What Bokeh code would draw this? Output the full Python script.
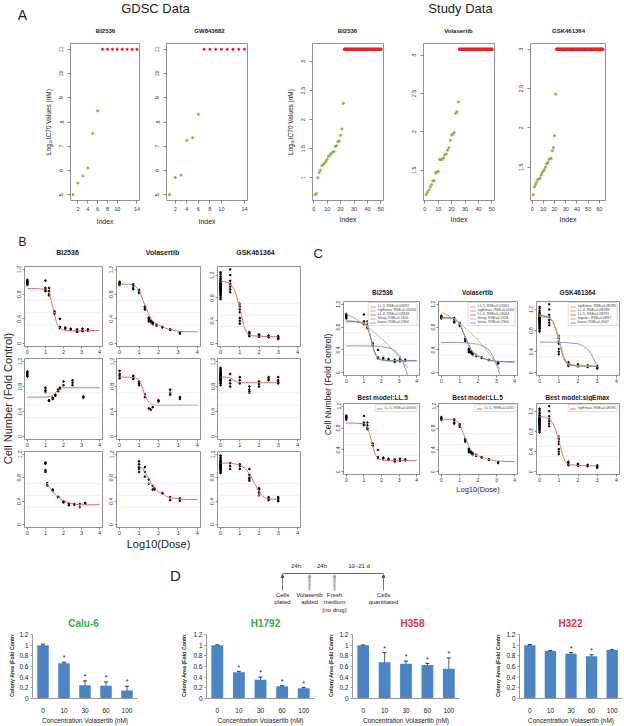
import math
from bokeh.plotting import figure
from bokeh.layouts import row, column
from bokeh.models import (Range1d, FixedTicker, Whisker, ColumnDataSource, Arrow,
                          NormalHead, Spacer, FactorRange, Span)
from bokeh.core.properties import value
from bokeh.embed import file_html
from bokeh.resources import INLINE

FONT = "Liberation Sans"
GREEN_PT = "#8cba45"
RED_PT = "#e3242b"
FIT_RED = "#e0605a"
BAR_BLUE = "#4b85c6"
ERR_COL = "#1d3557"
MODEL_COLS = ["#ea8a7e", "#b3a544", "#4f8fc0", "#d4a26a", "#9a85b8"]

# ---------------- Panel A data ----------------
gdsc_idx = [1, 2, 3, 4, 5, 6]
gdsc_bi = [5.0, 5.48, 5.77, 6.1, 7.53, 8.46]
gdsc_gw = [5.0, 5.71, 5.81, 7.24, 7.35, 8.32]
gdsc_res_idx = [7, 8, 9, 10, 11, 12, 13, 14]
gdsc_res_val = [11, 11, 11, 11, 11, 11, 11, 11]
gdsc_xticks = [2, 4, 6, 8, 10, 14]
gdsc_yticks = [5, 6, 7, 8, 9, 10, 11]

study_bi = [0.71, 0.73, 1.0, 1.09, 1.13, 1.21, 1.23, 1.25, 1.28, 1.32, 1.37, 1.39,
            1.42, 1.44, 1.45, 1.54, 1.55, 1.62, 1.63, 1.73, 1.84, 2.28]
study_bi_cap = 3.21
study_bi_n = 50
study_vol = [1.18, 1.21, 1.24, 1.28, 1.31, 1.36, 1.36, 1.46, 1.48, 1.48, 1.64, 1.64,
             1.64, 1.66, 1.70, 1.71, 1.76, 1.79, 1.89, 1.96, 1.97, 1.99, 2.24, 2.26, 2.39]
study_vol_cap = 3.076
study_vol_n = 50
study_gsk = [1.15, 1.25, 1.28, 1.31, 1.34, 1.35, 1.36, 1.40, 1.43, 1.45, 1.47, 1.50,
             1.54, 1.56, 1.60, 1.61, 1.61, 1.71, 1.75, 1.90, 2.43]
study_gsk_cap = 3.0
study_gsk_n = 63
a_titles = ["BI2536", "GW843682", "BI2536", "Volasertib", "GSK461364"]

# ---------------- Panel B data (log10 dose, replicate fold-control values, fitted curve) ----
b1_dose = [0, 1.0, 1.2, 1.5, 1.8, 2.1, 2.4, 2.75, 3.05, 3.35]
b1_reps = [[0.95, 0.97, 0.99, 1.0, 1.01, 1.03], [1.02, 0.9, 0.87, 0.85], [0.9, 0.85, 0.8, 0.78],
           [0.52, 0.5, 0.48], [0.4, 0.27, 0.25], [0.26, 0.24], [0.24, 0.22], [0.23, 0.2, 0.19],
           [0.24, 0.21, 0.2], [0.23, 0.21]]
b1_cx = [0, 0.5, 1.0, 1.1, 1.2, 1.3, 1.4, 1.5, 1.6, 1.7, 1.8, 1.9, 2.0, 2.2, 2.5, 3.0, 4.0]
b1_cy = [0.89, 0.89, 0.88, 0.86, 0.81, 0.72, 0.6, 0.47, 0.36, 0.29, 0.25, 0.23, 0.22, 0.21, 0.21, 0.21, 0.21]

b2_dose = [0, 0.7, 1.0, 1.3, 1.5, 1.6, 1.7, 1.9, 2.2, 2.6, 3.1]
b2_reps = [[0.95, 0.97, 0.98, 1.0], [0.96, 0.94, 0.9, 0.88], [0.87, 0.85, 0.82], [0.6, 0.58, 0.55],
           [0.42, 0.4, 0.38, 0.36], [0.37, 0.35], [0.34, 0.33, 0.31], [0.31, 0.29], [0.27, 0.26],
           [0.23, 0.22], [0.18, 0.16]]
b2_cx = [0, 0.5, 0.7, 0.85, 1.0, 1.1, 1.2, 1.3, 1.4, 1.5, 1.6, 1.7, 1.8, 2.0, 2.2, 2.5, 3.0, 3.5, 4.0]
b2_cy = [0.96, 0.96, 0.95, 0.92, 0.86, 0.79, 0.70, 0.62, 0.55, 0.47, 0.41, 0.37, 0.34, 0.30, 0.27, 0.23, 0.20, 0.19, 0.19]

b3_dose = [0, 0.5, 1.0, 1.5, 2.0, 2.5, 3.0]
b3_reps = [[0.78, 0.81, 0.84, 0.86, 0.88, 0.9, 0.91, 0.93, 0.94, 0.95, 0.96, 0.97, 0.98, 0.99, 1.0,
            1.01, 1.02, 1.03, 1.04, 1.05, 1.06, 1.08, 1.1, 1.12, 1.15, 1.18, 1.22, 1.25],
           [0.9, 0.95, 1.0, 1.05, 1.1, 1.2, 1.3], [0.7, 0.65, 0.6, 0.55, 0.45, 0.4, 0.35],
           [0.2, 0.18, 0.15, 0.13], [0.16, 0.14, 0.12], [0.14, 0.12, 0.11], [0.13, 0.11, 0.09, 0.08]]
b3_cx = [0, 0.3, 0.5, 0.7, 0.85, 1.0, 1.1, 1.2, 1.3, 1.4, 1.5, 2.0, 2.5, 3.0]
b3_cy = [1.10, 1.08, 1.05, 0.96, 0.82, 0.62, 0.48, 0.33, 0.23, 0.17, 0.14, 0.13, 0.12, 0.12]

b4_dose = [0, 1.0, 1.2, 1.4, 1.55, 1.7, 1.8, 2.0, 2.5, 3.1]
b4_reps = [[0.96, 0.98, 1.0, 1.02, 1.04], [0.78, 0.74, 0.71], [0.58, 0.57], [0.62, 0.6], [0.67, 0.65],
           [0.75, 0.72], [0.78, 0.76], [0.88, 0.82], [0.9, 0.86, 0.82], [0.64, 0.62]]
b4_cx = [0, 0.5, 1.0, 1.3, 1.45, 1.6, 1.7, 1.8, 1.9, 2.0, 2.5, 3.0, 4.0]
b4_cy = [0.63, 0.63, 0.63, 0.64, 0.67, 0.71, 0.74, 0.76, 0.77, 0.78, 0.78, 0.78, 0.78]

b5_dose = [0, 0.7, 1.0, 1.3, 1.5, 1.6, 1.7, 2.0, 2.6, 3.1]
b5_reps = [[1.05, 1.0, 0.97, 0.93], [0.97, 0.95, 0.92], [0.88, 0.85, 0.82], [0.68, 0.63], [0.45],
           [0.43], [0.47], [0.56, 0.58], [0.75, 0.7, 0.67], [0.63, 0.6]]
b5_cx = [0, 0.5, 0.8, 1.0, 1.1, 1.2, 1.3, 1.4, 1.5, 1.6, 1.7, 1.8, 2.0, 3.0, 4.0]
b5_cy = [0.95, 0.95, 0.94, 0.9, 0.84, 0.76, 0.67, 0.6, 0.55, 0.52, 0.51, 0.5, 0.5, 0.5, 0.5]

b6_dose = [0, 0.5, 1.0, 1.5, 2.0, 2.5, 3.0]
b6_reps = [[0.82, 0.85, 0.87, 0.89, 0.9, 0.91, 0.92, 0.93, 0.94, 0.95, 0.96, 0.97, 0.98, 0.99, 1.0,
            1.01, 1.02, 1.04, 1.06, 1.08, 1.1], [1.0, 0.9, 0.85, 0.8], [0.95, 0.9, 0.85],
           [0.8, 0.75, 0.72, 0.7], [0.88, 0.84, 0.8], [0.95, 0.92, 0.9], [0.95, 0.9, 0.87, 0.85]]
b6_cx = [0, 0.3, 0.5, 0.6, 0.7, 0.8, 0.9, 1.0, 1.5, 2.0, 3.0]
b6_cy = [0.95, 0.95, 0.94, 0.92, 0.9, 0.88, 0.87, 0.86, 0.86, 0.86, 0.86]

b7_dose = [1.0, 1.1, 1.4, 1.7, 2.0, 2.3, 2.6, 2.9, 3.2]
b7_reps = [[1.06, 1.04, 0.93, 0.9], [0.71, 0.67], [0.58, 0.6], [0.47, 0.48], [0.4, 0.38], [0.36, 0.33],
           [0.34, 0.35], [0.35, 0.3], [0.36, 0.37]]
b7_cx = [1.0, 1.2, 1.4, 1.6, 1.8, 2.0, 2.3, 2.6, 3.0, 3.5, 4.0]
b7_cy = [0.71, 0.64, 0.57, 0.5, 0.45, 0.41, 0.37, 0.35, 0.34, 0.34, 0.34]

b8_dose = [1.0, 1.3, 1.5, 1.7, 1.8, 2.2, 2.6, 3.1]
b8_reps = [[1.08, 1.03, 0.98, 0.95, 0.9], [0.98, 0.9, 0.82], [0.77, 0.7], [0.66, 0.6], [0.6, 0.62],
           [0.54, 0.53], [0.47, 0.42], [0.45, 0.41]]
b8_cx = [1.0, 1.2, 1.4, 1.6, 1.8, 2.0, 2.2, 2.5, 3.0, 3.5, 4.0]
b8_cy = [1.0, 0.95, 0.85, 0.72, 0.62, 0.56, 0.52, 0.47, 0.44, 0.43, 0.43]

b9_dose = [0, 0.5, 1.0, 1.5, 2.0, 2.5, 3.0]
b9_reps = [[0.88, 0.9, 0.92, 0.94, 0.95, 0.96, 0.97, 0.98, 0.99, 1.0, 1.01, 1.02, 1.03, 1.04, 1.05,
            1.06, 1.07, 1.08, 1.1, 1.12, 1.15, 1.18], [1.05, 1.0, 0.95], [1.03, 1.0, 0.95],
           [0.95, 0.85, 0.8, 0.78, 0.75], [0.62, 0.6, 0.55, 0.5], [0.47, 0.44, 0.42], [0.47, 0.45, 0.42, 0.4]]
b9_cx = [0, 0.5, 1.0, 1.3, 1.5, 1.7, 1.9, 2.1, 2.3, 2.5, 3.0]
b9_cy = [1.05, 1.05, 1.02, 0.95, 0.87, 0.75, 0.62, 0.52, 0.46, 0.44, 0.43]

ref_lines = [0.3, 0.5, 0.7]
drug_names = ["BI2536", "Volasertib", "GSK461364"]

# ---------------- Panel C data (candidate model fits) ----------------
c1_models = ["LL.5, RSE=0.03092", "sigEmax, RSE=0.03094", "LL.4, RSE=0.03839",
             "linlog, RSE=0.1804", "linear, RSE=0.2364"]
c1_x = [b1_cx,
        [0, 0.5, 1.0, 1.2, 1.3, 1.4, 1.5, 1.6, 1.7, 1.8, 2.0, 2.5, 3.0, 4.0],
        [0, 0.5, 1.0, 1.2, 1.4, 1.6, 1.8, 2.0, 2.5, 3.0, 4.0],
        [0, 0.5, 1.0, 1.5, 2.0, 2.5, 3.0, 3.5],
        [0, 1.0, 2.0, 2.5, 2.8, 3.0, 3.2, 3.4, 3.5]]
c1_y = [b1_cy,
        [0.9, 0.9, 0.87, 0.81, 0.72, 0.6, 0.47, 0.36, 0.29, 0.25, 0.22, 0.21, 0.21, 0.21],
        [0.91, 0.9, 0.86, 0.79, 0.6, 0.37, 0.26, 0.23, 0.21, 0.21, 0.21],
        [1.03, 0.95, 0.85, 0.73, 0.6, 0.45, 0.28, 0.08],
        [0.47, 0.47, 0.46, 0.43, 0.38, 0.31, 0.2, 0.04, -0.06]]

c2_models = ["LL.5, RSE=0.02661", "sigEmax, RSE=0.0264", "LL.4, RSE=0.03034",
             "linlog, RSE=0.1108", "linear, RSE=0.2364"]
c2_x = [b2_cx,
        [0, 0.7, 1.0, 1.2, 1.4, 1.6, 1.8, 2.0, 2.5, 3.0, 4.0],
        [0, 0.7, 1.0, 1.2, 1.4, 1.6, 1.8, 2.0, 2.5, 3.0, 4.0],
        [0, 0.5, 1.0, 1.5, 2.0, 2.5, 3.0, 3.2],
        [0, 1.0, 1.5, 2.0, 2.3, 2.6, 2.8, 3.0, 3.1, 3.2]]
c2_y = [b2_cy,
        [0.96, 0.95, 0.87, 0.71, 0.55, 0.42, 0.34, 0.30, 0.23, 0.20, 0.19],
        [0.97, 0.95, 0.86, 0.70, 0.55, 0.41, 0.33, 0.29, 0.23, 0.20, 0.19],
        [1.06, 0.98, 0.87, 0.73, 0.57, 0.38, 0.16, 0.06],
        [0.53, 0.53, 0.52, 0.5, 0.47, 0.4, 0.3, 0.15, 0.06, -0.03]]

c3_models = ["sigEmax, RSE=0.08785", "LL.4, RSE=0.08788", "LL.5, RSE=0.08791",
             "logistic, RSE=0.0897", "linear, RSE=0.2647"]
c3_x = [b3_cx,
        [0, 0.5, 0.7, 0.85, 1.0, 1.1, 1.2, 1.3, 1.5, 2.0, 3.0],
        [0, 0.5, 0.7, 0.85, 1.0, 1.1, 1.2, 1.3, 1.5, 2.0, 3.0],
        [0, 0.5, 0.7, 0.9, 1.0, 1.1, 1.2, 1.3, 1.5, 2.0, 3.0],
        [0, 0.5, 1.0, 1.5, 2.0, 2.3, 2.5, 2.7, 2.9, 3.0]]
c3_y = [b3_cy,
        [1.09, 1.05, 0.97, 0.83, 0.63, 0.48, 0.34, 0.24, 0.15, 0.13, 0.12],
        [1.09, 1.05, 0.96, 0.82, 0.62, 0.49, 0.34, 0.24, 0.15, 0.13, 0.12],
        [1.07, 1.04, 0.97, 0.78, 0.64, 0.5, 0.37, 0.27, 0.17, 0.13, 0.13],
        [0.58, 0.58, 0.58, 0.57, 0.55, 0.5, 0.45, 0.35, 0.2, 0.1]]

best_titles = ["Best model:LL.5", "Best model:LL.5", "Best model:sigEmax"]
best_labels = ["LL.5, RSE=0.03092", "LL.5, RSE=0.0261", "sigEmax, RSE=0.08785"]

# ---------------- Panel D data ----------------
conc = ["0", "10", "30", "60", "100"]
cell_lines = ["Calu-6", "H1792", "H358", "H322"]
line_colors = ["#35a852", "#35a852", "#e3323c", "#e3323c"]
colony_mean = [[1.0, 0.66, 0.25, 0.24, 0.15],
               [1.0, 0.49, 0.35, 0.23, 0.19],
               [1.0, 0.68, 0.65, 0.63, 0.56],
               [1.0, 0.89, 0.84, 0.79, 0.91]]
colony_err = [[0.02, 0.02, 0.08, 0.07, 0.08],
              [0.005, 0.02, 0.05, 0.01, 0.02],
              [0.0, 0.18, 0.05, 0.03, 0.2],
              [0.01, 0.01, 0.02, 0.03, 0.005]]
colony_sig = [["", "*", "*", "*", "*"],
              ["", "*", "*", "*", "*"],
              ["", "*", "*", "*", "*"],
              ["", "", "*", "*", ""]]
tl_labels = [["Cells", "plated"], ["Volasertib", "added"], ["Fresh", "medium", "(no drug)"],
             ["Cells", "quantitated"]]
tl_intervals = ["24h", "24h", "10\u201321 d"]


def pad(lo, hi, f=0.04):
    s = hi - lo
    return (lo - f * s, hi + f * s)


def canvas(w, h):
    p = figure(width=w, height=h, x_range=Range1d(0, w), y_range=Range1d(h, 0),
               x_axis_type=None, y_axis_type=None, min_border=0, title=None,
               output_backend="svg", toolbar_location=None)
    p.outline_line_color = None
    return p


def put_text(p, x, y, txt, size, align="center", bold=False, color="#222222", angle=0.0):
    p.text(x=[x], y=[y], text=[txt], text_font=value(FONT), text_font_size=size,
           text_font_style="bold" if bold else "normal", text_align=align,
           text_baseline="middle", text_color=color, angle=angle)


def rpanel(w, h, l, r, t, b, xr, yr, xt, yt, fs="5.5px", tick_out=2, xstand=1, ystand=1):
    p = figure(width=w, height=h, x_range=Range1d(*xr), y_range=Range1d(*yr),
               output_backend="svg", toolbar_location=None, title=None,
               min_border_left=l, min_border_right=r, min_border_top=t, min_border_bottom=b)
    p.grid.visible = False
    p.outline_line_color = "#777777"
    p.outline_line_width = 0.8
    for ax in (p.xaxis[0], p.yaxis[0]):
        ax.axis_line_color = None
        ax.major_tick_out = tick_out
        ax.major_tick_in = 0
        ax.minor_tick_line_color = None
        ax.major_tick_line_color = "#555555"
        ax.major_tick_line_width = 0.7
        ax.major_label_text_font = FONT
        ax.major_label_text_font_size = fs
        ax.major_label_text_color = "#333333"
        ax.axis_label_text_font = FONT
        ax.axis_label_text_font_style = "normal"
        ax.axis_label_text_color = "#222222"
    p.xaxis.major_label_standoff = xstand
    p.yaxis.major_label_standoff = ystand
    p.xaxis.ticker = FixedTicker(ticks=xt)
    p.yaxis.ticker = FixedTicker(ticks=yt)
    p.yaxis.major_label_orientation = "vertical"
    return p


# ================= Band A (page y 0..232) =================
headerA = canvas(624, 35)
put_text(headerA, 22, 14, "A", "14px", align="center")
put_text(headerA, 155, 8, "GDSC Data", "13px")
put_text(headerA, 460, 8, "Study Data", "13px")
a_title_x = [105, 209, 347, 458, 568]
for tx, tt in zip(a_title_x, a_titles):
    put_text(headerA, tx, 30, tt, "6px", bold=True)

A_H = 197
a_figs = []
gd_xr = pad(1, 14)
gd_yr = pad(5, 11)
for k, (vals, w, l, r) in enumerate([(gdsc_bi, 150, 70, 11), (gdsc_gw, 108, 16, 11)]):
    p = rpanel(w, A_H, l, r, 8, 32, gd_xr, gd_yr, gdsc_xticks, gdsc_yticks,
               fs="5.5px", tick_out=3, xstand=3, ystand=4)
    p.scatter(gdsc_idx, vals, size=2.2, color=GREEN_PT, marker="circle")
    p.scatter(gdsc_res_idx, gdsc_res_val, size=2.2, color=RED_PT, marker="circle")
    p.xaxis.axis_label = "Index"
    p.xaxis.axis_label_text_font_size = "7px"
    p.xaxis.axis_label_standoff = 4
    if k == 0:
        p.yaxis.axis_label = "Log\u2081\u2080IC70 Values (nM)"
        p.yaxis.axis_label_text_font_size = "6.5px"
        p.yaxis.axis_label_standoff = 5
    a_figs.append(p)

study_sets = [(study_bi, study_bi_cap, study_bi_n, 137, 54, 12,
               [0, 10, 20, 30, 40, 50], [1.0, 1.5, 2.0, 2.5, 3.0]),
              (study_vol, study_vol_cap, study_vol_n, 110, 28, 11,
               [0, 10, 20, 30, 40, 50], [1.5, 2.0, 2.5, 3.0]),
              (study_gsk, study_gsk_cap, study_gsk_n, 119, 25, 19,
               [0, 10, 20, 30, 40, 50, 60], [1.5, 2.0, 2.5, 3.0])]
for k, (vals, cap, n, w, l, r, xt, yt) in enumerate(study_sets):
    idx = list(range(1, len(vals) + 1))
    cap_idx = list(range(len(vals) + 1, n + 1))
    cap_val = [cap for _ in cap_idx]
    p = rpanel(w, A_H, l, r, 7, 28, pad(1, n), pad(min(vals), cap), xt, yt,
               fs="5.5px", tick_out=3, xstand=3, ystand=4)
    p.scatter(idx, vals, size=2.2, color=GREEN_PT, marker="circle")
    p.scatter(cap_idx, cap_val, size=2.8, color=RED_PT, marker="circle")
    p.xaxis.axis_label = "Index"
    p.xaxis.axis_label_text_font_size = "7px"
    p.xaxis.axis_label_standoff = 2
    if k == 0:
        p.yaxis.axis_label = "Log\u2081\u2080IC70 Values (nM)"
        p.yaxis.axis_label_text_font_size = "6.5px"
        p.yaxis.axis_label_standoff = 5
    a_figs.append(p)

bandA = row(*a_figs)


def flat(doses, reps):
    xs, ys = [], []
    for d, rr in zip(doses, reps):
        for v in rr:
            xs.append(d)
            ys.append(v)
    return xs, ys


STD_Y = pad(0, 1.2)
GSK_Y = pad(0, 1.3)
B_DATA = [[(b1_dose, b1_reps, b1_cx, b1_cy, STD_Y), (b2_dose, b2_reps, b2_cx, b2_cy, STD_Y),
           (b3_dose, b3_reps, b3_cx, b3_cy, GSK_Y)],
          [(b4_dose, b4_reps, b4_cx, b4_cy, STD_Y), (b5_dose, b5_reps, b5_cx, b5_cy, STD_Y),
           (b6_dose, b6_reps, b6_cx, b6_cy, STD_Y)],
          [(b7_dose, b7_reps, b7_cx, b7_cy, STD_Y), (b8_dose, b8_reps, b8_cx, b8_cy, STD_Y),
           (b9_dose, b9_reps, b9_cx, b9_cy, STD_Y)]]
X_R = pad(0, 4)
XT = [0, 1, 2, 3, 4]
YT = [0.0, 0.4, 0.8, 1.2]


def add_ref_lines(p):
    for v in ref_lines:
        p.add_layout(Span(location=v, dimension="width", line_color="#e4e4e4", line_width=0.6))


# ================= Column B (page x 0..312, y 232..552) =================
B_W = [92, 100, 106]
B_LR = [(9, 4), (9, 6), (11, 12)]
B_H = [97, 92, 103]
B_TB = [(6, 11), (1, 10), (2, 22)]
b_rows = []
for ri in range(3):
    figs = []
    for ci in range(3):
        dose, reps, cx, cy, yr = B_DATA[ri][ci]
        p = rpanel(B_W[ci], B_H[ri], B_LR[ci][0], B_LR[ci][1], B_TB[ri][0], B_TB[ri][1],
                   X_R, yr, XT, YT, fs="5.5px")
        add_ref_lines(p)
        xs, ys = flat(dose, reps)
        p.scatter(xs, ys, size=1.7, color="black", marker="circle")
        p.line(cx, cy, line_color=FIT_RED, line_width=0.9)
        if ri == 2 and ci == 1:
            p.xaxis.axis_label = "Log10(Dose)"
            p.xaxis.axis_label_text_font_size = "11px"
            p.xaxis.axis_label_standoff = 0
        figs.append(p)
    b_rows.append(row(*figs))

headerB = canvas(298, 28)
put_text(headerB, 8, 9, "B", "12px", align="center")
b_title_x = [53, 148, 241]
for tx, tt in zip(b_title_x, drug_names):
    put_text(headerB, tx, 20, tt, "7px", bold=True)
labelB = canvas(14, 320)
put_text(labelB, 7, 166, "Cell Number (Fold Control)", "11px", angle=math.pi / 2)
colB = row(labelB, column(headerB, *b_rows))

# ================= Column C (page x 312..624) =================
C_W = [95, 98, 98]
C_LR = [(10, 9), (10, 9), (9, 5)]
C_H = [90, 95]
C_TB = [(5, 11), (2, 16)]
c_sets = [(c1_models, c1_x, c1_y), (c2_models, c2_x, c2_y), (c3_models, c3_x, c3_y)]


def style_legend(p):
    leg = p.legend[0]
    leg.location = "top_right"
    leg.label_text_font = FONT
    leg.label_text_font_size = "3.6px"
    leg.glyph_width = 6
    leg.glyph_height = 3
    leg.label_height = 3
    leg.spacing = 0
    leg.padding = 1
    leg.margin = 1
    leg.label_standoff = 2
    leg.border_line_color = "#bbbbbb"
    leg.border_line_width = 0.5
    leg.background_fill_alpha = 1.0


c_row1 = []
for ci in range(3):
    dose, reps, cx, cy, yr = B_DATA[0][ci]
    p = rpanel(C_W[ci], C_H[0], C_LR[ci][0], C_LR[ci][1], C_TB[0][0], C_TB[0][1],
               X_R, yr, XT, YT, fs="5px")
    add_ref_lines(p)
    xs, ys = flat(dose, reps)
    p.scatter(xs, ys, size=1.6, color="black", marker="circle")
    names, mx, my = c_sets[ci]
    for j in range(5):
        p.line(mx[j], my[j], line_color=MODEL_COLS[j], line_width=0.9, legend_label=names[j])
    style_legend(p)
    c_row1.append(p)

c_row2 = []
for ci in range(3):
    dose, reps, cx, cy, yr = B_DATA[0][ci]
    p = rpanel(C_W[ci], C_H[1], C_LR[ci][0], C_LR[ci][1], C_TB[1][0], C_TB[1][1],
               X_R, yr, XT, YT, fs="5px")
    add_ref_lines(p)
    xs, ys = flat(dose, reps)
    p.scatter(xs, ys, size=1.6, color="black", marker="circle")
    p.line(cx, cy, line_color=FIT_RED, line_width=0.9, legend_label=best_labels[ci])
    style_legend(p)
    if ci == 1:
        p.xaxis.axis_label = "Log10(Dose)"
        p.xaxis.axis_label_text_font_size = "7.5px"
        p.xaxis.axis_label_standoff = 0
    c_row2.append(p)

c_title_x = [49, 144, 244]
headC = canvas(291, 64)
stripC = canvas(291, 15)
for tx, tt, bt in zip(c_title_x, drug_names, best_titles):
    put_text(headC, tx, 60, tt, "6.5px", bold=True)
    put_text(stripC, tx, 11, bt, "6.5px", bold=True)
labelC = canvas(21, 320)
put_text(labelC, 1, 21, "C", "13px", align="left")
put_text(labelC, 15, 152, "Cell Number (Fold Control)", "8.5px", angle=math.pi / 2)
colC = row(labelC, column(headC, row(*c_row1), stripC, row(*c_row2),
                          Spacer(width=291, height=56)))

# ================= Band D (page y 552..726) =================
topD = canvas(624, 76)
put_text(topD, 175, 23, "D", "15px")
tl_x = [282, 309, 334, 383]
tl_y_line = 21
topD.line([tl_x[0], tl_x[-1]], [tl_y_line, tl_y_line], line_color="#444444", line_width=0.8)
arrow_cols = ["#555555", "#aaaaaa", "#aaaaaa", "#555555"]
arrow_w = [0.8, 2.0, 2.0, 0.8]
for k, xk in enumerate(tl_x):
    topD.add_layout(Arrow(end=NormalHead(size=3, fill_color=arrow_cols[k], line_color=arrow_cols[k]),
                          x_start=xk, y_start=38, x_end=xk, y_end=tl_y_line + 1,
                          line_color=arrow_cols[k], line_width=arrow_w[k]))
    for j, ln in enumerate(tl_labels[k]):
        put_text(topD, xk, 42 + 7.5 * j, ln, "6px")
for k, lab in enumerate(tl_intervals):
    put_text(topD, (tl_x[k] + tl_x[k + 1]) / 2, 13, lab, "6px")
bar_title_x = [83, 265, 412, 570]
for tx, tt, tc in zip(bar_title_x, cell_lines, line_colors):
    put_text(topD, tx, 71, tt, "10px", bold=True, color=tc)

# each bar chart: narrow canvas for the y-axis title + the chart itself
BAR_LAB_W = [16, 15, 11, 13]
BAR_LAB_X = [11, 8, 5, 7]
BAR_W = [159, 135, 154, 121]
BAR_LR = [(14, 38), (13, 11), (13, 31), (13, 2)]
BAR_H = 98
bar_parts = []
for k in range(4):
    lab = canvas(BAR_LAB_W[k], BAR_H)
    put_text(lab, BAR_LAB_X[k], 44, "Colony Area (Fold Control)", "5.3px", bold=True,
             angle=math.pi / 2)
    bar_parts.append(lab)
    mean = colony_mean[k]
    err = colony_err[k]
    src = ColumnDataSource(dict(x=conc, top=mean,
                                up=[m + e for m, e in zip(mean, err)],
                                lo=[m - e for m, e in zip(mean, err)],
                                sig=colony_sig[k],
                                ay=[m + e + 0.08 for m, e in zip(mean, err)]))
    p = figure(width=BAR_W[k], height=BAR_H, x_range=FactorRange(*conc), y_range=Range1d(0, 1.2),
               min_border_left=BAR_LR[k][0], min_border_right=BAR_LR[k][1],
               min_border_top=6, min_border_bottom=22, title=None,
               output_backend="svg", toolbar_location=None)
    p.grid.visible = False
    p.outline_line_color = None
    p.vbar(x="x", top="top", width=0.55, source=src, fill_color=BAR_BLUE, line_color=None)
    wk = Whisker(base="x", upper="up", lower="lo", source=src, line_color=ERR_COL, line_width=0.8)
    wk.upper_head.size = 4
    wk.lower_head.size = 4
    wk.upper_head.line_color = ERR_COL
    wk.lower_head.line_color = ERR_COL
    p.add_layout(wk)
    p.text(x="x", y="ay", text="sig", source=src, text_font=value(FONT), text_font_size="7px",
           text_align="center", text_baseline="middle", text_color="#222222")
    p.yaxis.ticker = FixedTicker(ticks=[0, 0.2, 0.4, 0.6, 0.8, 1.0, 1.2])
    p.yaxis.major_label_overrides = {0: "0", 0.2: "0.2", 0.4: "0.4", 0.6: "0.6", 0.8: "0.8",
                                     1.0: "1", 1.2: "1.2"}
    for ax in (p.xaxis[0], p.yaxis[0]):
        ax.axis_line_color = "#999999"
        ax.major_label_text_font = FONT
        ax.major_label_text_font_size = "6.5px"
        ax.major_label_text_color = "#222222"
        ax.axis_label_text_font = FONT
        ax.axis_label_text_color = "#222222"
        ax.minor_tick_line_color = None
    p.yaxis.major_tick_out = 2
    p.yaxis.major_tick_in = 0
    p.yaxis.major_tick_line_color = "#999999"
    p.yaxis.major_label_standoff = 2
    p.xaxis.major_tick_line_color = None
    p.xaxis.major_label_standoff = 3
    p.xaxis.axis_label = "Concentration Volasertib (nM)"
    p.xaxis.axis_label_text_font_size = "6.5px"
    p.xaxis.axis_label_text_font_style = "normal"
    p.xaxis.axis_label_standoff = 1
    bar_parts.append(p)

bandD = column(topD, row(*bar_parts))

layout = column(headerA, bandA, row(colB, colC), bandD)
open("out.html", "w").write(file_html(layout, INLINE))
